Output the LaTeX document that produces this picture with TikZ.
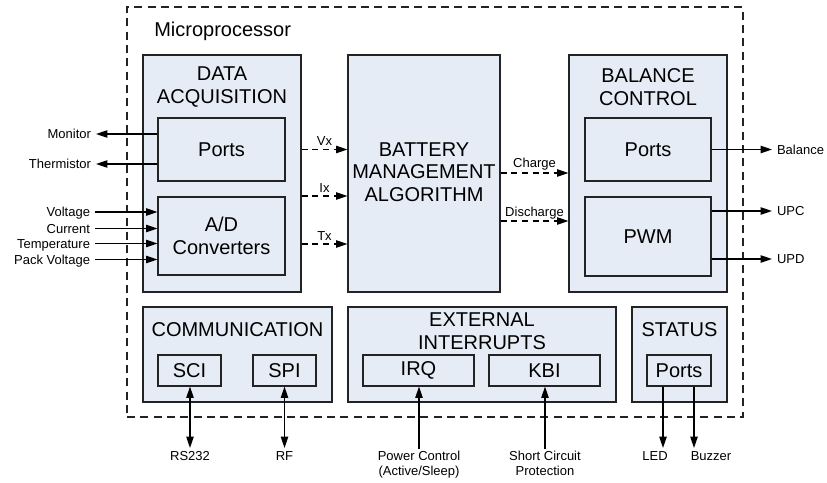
\documentclass[tikz,border=0pt]{standalone}
\usepackage{fontspec}
\setmainfont{Liberation Sans}
\usetikzlibrary{arrows.meta,fit,shadows}
\definecolor{boxfill}{RGB}{230,236,246}
\definecolor{edge}{RGB}{35,35,35}
\begin{document}
\begin{tikzpicture}[x=0.75pt,y=-0.75pt,
  block/.style={draw=edge, line width=0.8pt, fill=boxfill, inner sep=0pt,
    drop shadow={shadow xshift=0.7pt, shadow yshift=-0.7pt, opacity=1, fill=black!55}},
  outerbox/.style={draw=edge, line width=0.9pt, dash pattern=on 6pt off 4pt, inner sep=0pt},
  title/.style={font=\fontsize{15}{17}\selectfont, align=center, inner sep=0pt},
  lab/.style={font=\fontsize{9.75}{11}\selectfont, inner sep=0pt, outer sep=0pt,
    text height=7pt, text depth=0pt},
  sidelab/.style={lab, outer xsep=3.75pt},
  botlab/.style={lab, outer ysep=2.25pt},
  botlabtwo/.style={font=\fontsize{9.75}{11}\selectfont, align=center, inner sep=0pt, outer ysep=1.5pt},
  arr/.style={draw=black, line width=1pt, -{Triangle[length=8.5pt,width=5.5pt]}},
  biarr/.style={draw=black, line width=1pt, {Triangle[length=8.5pt,width=5.5pt]}-{Triangle[length=8.5pt,width=5.5pt]}},
  dasharr/.style={arr, dash pattern=on 4.5pt off 3.5pt}]
\useasboundingbox (0,0) rectangle (827,482);

% microprocessor boundary
\node[outerbox, fit={(127,7) (743,417)}] (mcu) {};
\node[title, anchor=base west] (mcutitle) at (154,36) {Microprocessor};

% data acquisition
\node[block, fit={(143,55) (301,292)}] (da) {};
\node[title] (datitle) at (222,87) {DATA\\ACQUISITION};
\node[block, fit={(158,118) (285,181)}] (daports) {};
\node[title] (daportstext) at (daports.center) {Ports};
\node[block, fit={(158,197) (285,275)}] (ad) {};
\node[title] (adtext) at (ad.center) {A/D\\Converters};

% battery management algorithm
\node[block, fit={(348,55) (500,292)}] (bma) {};
\node[title] (bmatext) at (424,172) {BATTERY\\MANAGEMENT\\ALGORITHM};

% balance control
\node[block, fit={(569,55) (727,292)}] (bc) {};
\node[title] (bctitle) at (648,87) {BALANCE\\CONTROL};
\node[block, fit={(585,118) (711,181)}] (bcports) {};
\node[title] (bcportstext) at (bcports.center) {Ports};
\node[block, fit={(585,197) (711,276)}] (pwm) {};
\node[title] (pwmtext) at (pwm.center) {PWM};

% communication
\node[block, fit={(143,307) (332,402)}] (comm) {};
\node[title] (commtitle) at (237.5,330) {COMMUNICATION};
\node[block, fit={(158,355) (221,386)}] (sci) {};
\node[title] (scitext) at (sci.center) {SCI};
\node[block, fit={(253,355) (316,386)}] (spi) {};
\node[title] (spitext) at (spi.center) {SPI};

% external interrupts
\node[block, fit={(348,307) (616,402)}] (ei) {};
\node[title] (eititle) at (482,331) {EXTERNAL\\INTERRUPTS};
\node[block, fit={(363,355) (474,386)}] (irq) {};
\node[title] (irqtext) at (irq.center) {IRQ};
\node[block, fit={(489,355) (600,386)}] (kbi) {};
\node[title] (kbitext) at (kbi.center) {KBI};

% status
\node[block, fit={(632,307) (727,402)}] (st) {};
\node[title] (sttitle) at (679.5,330) {STATUS};
\node[block, fit={(647,355) (711,386)}] (stports) {};
\node[title] (stportstext) at (stports.center) {Ports};

% left outputs
\node[sidelab, anchor=east] (monitor) at (96,134) {Monitor};
\node[sidelab, anchor=east] (thermistor) at (96,164) {Thermistor};
\draw[arr] (daports.west |- monitor) -- (monitor);
\draw[arr] (daports.west |- thermistor) -- (thermistor);

% left inputs
\node[sidelab, anchor=east] (voltage) at (95,212) {Voltage};
\node[sidelab, anchor=east] (current) at (95,228.5) {Current};
\node[sidelab, anchor=east] (temperature) at (95,243.5) {Temperature};
\node[sidelab, anchor=east] (pack) at (95,259.5) {Pack Voltage};
\draw[arr] (voltage) -- (ad.west |- voltage);
\draw[arr] (current) -- (ad.west |- current);
\draw[arr] (temperature) -- (ad.west |- temperature);
\draw[arr] (pack) -- (ad.west |- pack);

% internal signals
\coordinate (yvx) at (0,149.5);
\coordinate (yix) at (0,196);
\coordinate (ytx) at (0,244);
\coordinate (ych) at (0,173);
\coordinate (ydis) at (0,221);
\draw[dasharr] (da.east |- yvx) -- (bma.west |- yvx) node[lab, midway, above=3pt] (vx) {Vx};
\draw[dasharr] (da.east |- yix) -- (bma.west |- yix) node[lab, midway, above=3pt] (ix) {Ix};
\draw[dasharr] (da.east |- ytx) -- (bma.west |- ytx) node[lab, midway, above=3pt] (tx) {Tx};
\draw[dasharr] (bma.east |- ych) -- (bc.west |- ych) node[lab, midway, above=4pt] (charge) {Charge};
\draw[dasharr] (bma.east |- ydis) -- (bc.west |- ydis) node[lab, midway, above=3.5pt] (discharge) {Discharge};

% right outputs
\node[sidelab, anchor=west] (balance) at (772,149.5) {Balance};
\node[sidelab, anchor=west] (upc) at (772,211) {UPC};
\node[sidelab, anchor=west] (upd) at (772,259) {UPD};
\draw[arr] (bcports.east |- balance) -- (balance);
\draw[arr] (pwm.east |- upc) -- (upc);
\draw[arr] (pwm.east |- upd) -- (upd);

% bottom connections
\node[botlab, anchor=north] (rs232) at (190,448) {RS232};
\node[botlab, anchor=north] (rf) at (284.5,448) {RF};
\draw[biarr] (sci.south -| rs232) -- (rs232);
\draw[biarr] (spi.south -| rf) -- (rf);

\node[botlabtwo, anchor=north] (power) at (419,449) {Power Control\\(Active/Sleep)};
\node[botlabtwo, anchor=north] (short) at (545,449) {Short Circuit\\Protection};
\draw[arr] (power) -- (irq.south -| power);
\draw[arr] (short) -- (kbi.south -| short);

\node[botlab, anchor=north] (led) at (655,448) {LED};
\node[botlab, anchor=north] (buzzer) at (711,448) {Buzzer};
\coordinate (ledend) at (663,448);
\coordinate (buzend) at (694,448);
\draw[arr] (stports.south -| ledend) -- (ledend);
\draw[arr] (stports.south -| buzend) -- (buzend);
\end{tikzpicture}
\end{document}
